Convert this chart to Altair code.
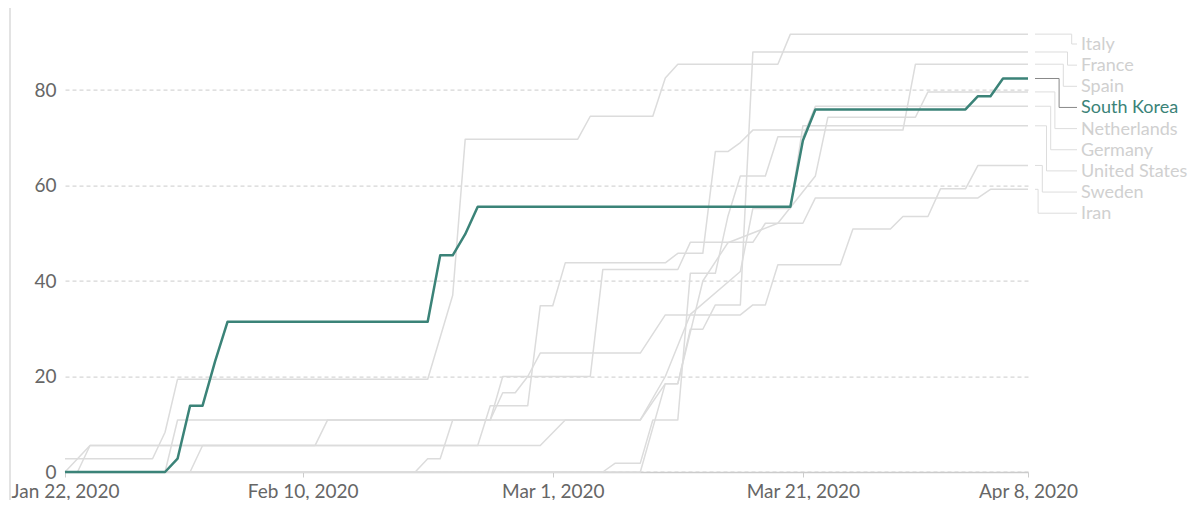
import altair as alt
import pandas as pd

START = pd.Timestamp("2020-01-22")
END = pd.Timestamp("2020-04-08")

countries = ["Italy", "France", "Spain", "South Korea", "Netherlands",
             "Germany", "United States", "Sweden", "Iran"]

# vertices of each series: day index since Jan 22, 2020 and index value
italy_days = [0, 7, 8, 9, 29, 31, 32, 41, 42, 47, 48, 49, 57, 58, 77]
italy_vals = [2.78, 2.78, 8.33, 19.44, 19.44, 37.0, 69.7, 69.7, 74.5, 74.5, 82.5, 85.4, 85.4, 91.7, 91.7]

france_days = [0, 2, 38, 40, 46, 48, 49, 50, 51, 52, 54, 55, 77]
france_vals = [0, 5.56, 5.56, 10.9, 10.9, 18.5, 18.5, 29.9, 29.9, 35.0, 35.0, 87.96, 87.96]

spain_days = [1, 2, 33, 34, 37, 38, 39, 40, 48, 49, 51, 52, 53, 54, 55, 67, 68, 77]
spain_vals = [0, 5.56, 5.56, 13.89, 13.89, 34.8, 34.8, 43.8, 43.8, 45.8, 45.8, 67.1, 67.1, 69.0,
              71.6, 71.6, 85.4, 85.4]

korea_days = [0, 8, 9, 10, 11, 12, 13, 29, 30, 31, 32, 33, 58, 59, 60, 72, 73, 74, 75, 77]
korea_vals = [0, 0, 2.78, 13.89, 13.89, 23.15, 31.48, 31.48, 45.37, 45.37, 49.8, 55.56, 55.56,
              69.44, 75.93, 75.93, 78.7, 78.7, 82.41, 82.41]

neth_days = [0, 46, 48, 49, 51, 53, 57, 60, 61, 68, 69, 77]
neth_vals = [0, 0, 18.5, 18.5, 40.0, 48.0, 52.1, 62.0, 74.3, 74.3, 79.6, 79.6]

germany_days = [0, 43, 44, 46, 47, 49, 50, 52, 53, 54, 56, 57, 59, 60, 77]
germany_vals = [0, 0, 1.85, 1.85, 10.9, 10.9, 41.6, 41.6, 53.5, 62.0, 62.0, 70.2, 70.2, 76.6, 76.6]

us_days = [0, 10, 11, 20, 21, 46, 48, 50, 54, 55, 58, 59, 77]
us_vals = [0, 0, 5.56, 5.56, 10.9, 10.9, 20.0, 33.0, 42.0, 55.2, 55.2, 72.5, 72.5]

sweden_days = [0, 8, 9, 34, 35, 36, 37, 38, 46, 48, 54, 55, 56, 57, 62, 63, 66, 67, 69, 70, 72, 73, 77]
sweden_vals = [0, 0, 10.9, 10.9, 16.6, 16.6, 20.0, 24.9, 24.9, 32.9, 32.9, 35.0, 35.0, 43.4, 43.4,
               50.9, 50.9, 53.5, 53.5, 59.3, 59.3, 64.2, 64.2]

iran_days = [0, 28, 29, 30, 31, 34, 35, 42, 43, 49, 50, 55, 56, 59, 60, 73, 74, 77]
iran_vals = [0, 0, 2.78, 2.78, 10.9, 10.9, 20.0, 20.0, 42.4, 42.4, 48.1, 48.1, 52.1, 52.1, 57.4,
             57.4, 59.2, 59.2]

series = {
    "Italy": (italy_days, italy_vals),
    "France": (france_days, france_vals),
    "Spain": (spain_days, spain_vals),
    "South Korea": (korea_days, korea_vals),
    "Netherlands": (neth_days, neth_vals),
    "Germany": (germany_days, germany_vals),
    "United States": (us_days, us_vals),
    "Sweden": (sweden_days, sweden_vals),
    "Iran": (iran_days, iran_vals),
}

rows = []
for c, (ds, vs) in series.items():
    for k, (d, v) in enumerate(zip(ds, vs)):
        rows.append({"country": c, "date": START + pd.Timedelta(days=d), "value": v, "k": k})
df = pd.DataFrame(rows)

# ---- layout constants
W = 963
YMAX = 96
H = 458.4
PX_PER_DAY = W / 77.0
PX_PER_UNIT = H / YMAX
HIGHLIGHT = "South Korea"
TEAL = "#3b8378"
GRAY = "#dcdcdc"
LABEL_GRAY = "#d0d0d0"


def t_at(px):
    return END + pd.Timedelta(days=px / PX_PER_DAY)


# leader lines + labels
lead_rows = []
lab_rows = []
for i, c in enumerate(countries):
    end_v = series[c][1][-1]
    label_px_from_top = 44 - 13.6 + i * 21.15  # distance below plot top
    label_v = YMAX - label_px_from_top / PX_PER_UNIT
    elbow = 43.7 - 4.2 * i
    pts = [(t_at(7), end_v), (t_at(elbow), end_v), (t_at(elbow), label_v), (t_at(49), label_v)]
    for k, (t, v) in enumerate(pts):
        lead_rows.append({"country": c, "date": t, "value": v, "k": k, "hl": c == HIGHLIGHT})
    lab_rows.append({"country": c, "date": t_at(53), "value": label_v, "hl": c == HIGHLIGHT})
lead = pd.DataFrame(lead_rows)
labs = pd.DataFrame(lab_rows)

xscale = alt.Scale(domain=[alt.DateTime(year=2020, month=1, date=22),
                           alt.DateTime(year=2020, month=4, date=8)])
yscale = alt.Scale(domain=[0, YMAX], nice=False)

xaxis = alt.Axis(
    values=[alt.DateTime(year=2020, month=1, date=22), alt.DateTime(year=2020, month=2, date=10),
            alt.DateTime(year=2020, month=3, date=1), alt.DateTime(year=2020, month=3, date=21),
            alt.DateTime(year=2020, month=4, date=8)],
    format="%b %-d, %Y", title=None, grid=False, labelFont="Lato", labelFontSize=19,
    labelColor="#666666", domainColor="#cccccc", domainWidth=1.5, tickColor="#cccccc",
    tickSize=5, labelPadding=5, labelFlush=False, labelOverlap=False, labelBound=False,
)
yaxis = alt.Axis(
    values=[0, 20, 40, 60, 80], title=None, domain=False, ticks=False, grid=True,
    gridColor="#cccccc", gridDash=[4, 3], gridWidth=1, labelFont="Lato", labelFontSize=19,
    labelColor="#666666", labelPadding=9,
)

X = alt.X("date:T", scale=xscale, axis=xaxis)
Y = alt.Y("value:Q", scale=yscale, axis=yaxis)

frame = alt.Chart(pd.DataFrame({"a": [0]})).mark_rule(color="#e3e3e3", strokeWidth=2).encode(
    x=alt.value(-55), y=alt.value(-20), y2=alt.value(H + 60)
)

gray = alt.Chart(df).transform_filter(alt.datum.country != HIGHLIGHT).mark_line(
    color=GRAY, strokeWidth=1.5, strokeJoin="round"
).encode(x=X, y=Y, detail="country:N", order="k:Q")

hl = alt.Chart(df).transform_filter(alt.datum.country == HIGHLIGHT).mark_line(
    color=TEAL, strokeWidth=2.5, strokeJoin="round"
).encode(x=alt.X("date:T"), y=alt.Y("value:Q"), order="k:Q")

lead_gray = alt.Chart(lead).transform_filter(alt.datum.hl == False).mark_line(
    color="#dddddd", strokeWidth=1
).encode(x="date:T", y="value:Q", detail="country:N", order="k:Q")

lead_hl = alt.Chart(lead).transform_filter(alt.datum.hl == True).mark_line(
    color="#888888", strokeWidth=1
).encode(x="date:T", y="value:Q", order="k:Q")

labels = alt.Chart(labs).mark_text(
    align="left", baseline="middle", font="Lato", fontSize=18, dy=1
).encode(
    x="date:T", y="value:Q", text="country:N",
    color=alt.condition(alt.datum.hl, alt.value(TEAL), alt.value(LABEL_GRAY)),
)

chart = alt.layer(frame, gray, lead_gray, lead_hl, hl, labels).properties(
    width=W, height=H,
    autosize=alt.AutoSizeParams(type="none"),
    padding={"left": 57, "top": 5.6, "right": 160, "bottom": 28},
).configure_view(stroke=None)

chart.save("out.html", embed_options={"renderer": "svg", "actions": False})
